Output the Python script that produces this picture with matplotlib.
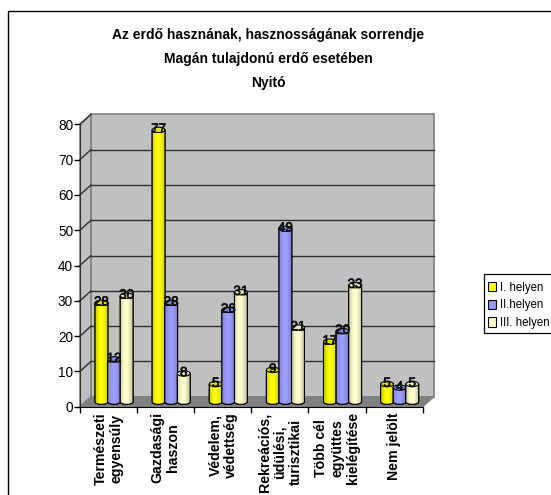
import numpy as np
import matplotlib
matplotlib.use("Agg")
import matplotlib.pyplot as plt
import matplotlib.patheffects as pe
from matplotlib.colors import LinearSegmentedColormap
from matplotlib.patches import Ellipse, Patch, PathPatch, Polygon, Rectangle
from matplotlib.path import Path

plt.rcParams['font.family'] = ['Liberation Sans', 'DejaVu Sans']

# Data
categories = ["Természeti\negyensúly", "Gazdasági\nhaszon", "Védelem,\nvédettség",
              "Rekreációs,\nüdülési,\nturisztikai", "Több cél\negyüttes\nkielégítése",
              "Nem jelölt"]
first = [28, 77, 5, 9, 17, 5]
second = [12, 28, 26, 49, 20, 4]
third = [30, 8, 31, 21, 33, 5]
series_names = ["I. helyen", "II.helyen", "III. helyen"]
yticks = [0, 10, 20, 30, 40, 50, 60, 70, 80]

W, H = 551, 495
fig = plt.figure(figsize=(W / 100, H / 100), dpi=100)
ax = fig.add_axes([80 / W, (H - 406.7) / H, 342.7 / W, 282.4 / H])
ax.set_facecolor("none")

# Depth of the fake 3D box in data units
dx = 11 / 57.1
dy = 10 / 3.53
bar_w = 12.8 / 57.1
ell_h = 1.5

# Outer frame, runs off the picture on the right and bottom
fig.add_artist(Rectangle((8 / W, -0.1), 1.2, (H - 11) / H + 0.1, transform=fig.transFigure,
                         fill=False, ec="black", lw=1))

# Walls and floor
ax.add_patch(Polygon([(dx, dy), (6 + dx, dy), (6 + dx, 80 + dy), (dx, 80 + dy)],
                     fc="#c0c0c0", ec="#808080", lw=1.2, clip_on=False, zorder=1))
ax.add_patch(Polygon([(0, 0), (dx, dy), (dx, 80 + dy), (0, 80)],
                     fc="#c0c0c0", ec="#808080", lw=1.2, clip_on=False, zorder=1))
ax.add_patch(Polygon([(0, 0), (6, 0), (6 + dx, dy), (dx, dy)],
                     fc="#808080", ec="#808080", lw=1, clip_on=False, zorder=1))

for v in yticks[1:]:
    ax.plot([0, dx], [v, v + dy], color="#303030", lw=1, clip_on=False, zorder=2)
    if v < 80:
        ax.plot([dx, 6 + dx], [v + dy, v + dy], color="#303030", lw=1, clip_on=False, zorder=2)

colors = [("#c8c800", "#ffff00", "#d0d000"),
          ("#8484d8", "#9c9cff", "#7c7cc8"),
          ("#d0d0a8", "#ffffd0", "#c4c49c")]
tops = ["#e0e000", "#8484e0", "#e8e8b8"]


def cylinder(x, v, cmap, top):
    left, right = x - bar_w / 2, x + bar_w / 2
    base = dy / 2
    y_top = v + dy / 2
    # body outline with the rounded bottom
    k = ell_h / 2 * 1.33
    verts = [(left, y_top), (left, base), (left, base - k), (right, base - k), (right, base),
             (right, y_top), (left, y_top)]
    codes = [Path.MOVETO, Path.LINETO, Path.CURVE4, Path.CURVE4, Path.CURVE4, Path.LINETO,
             Path.CLOSEPOLY]
    body = PathPatch(Path(verts, codes), fc="none", ec="black", lw=0.8, clip_on=False, zorder=3)
    ax.add_patch(body)
    im = ax.imshow(np.linspace(0, 1, 32).reshape(1, -1), cmap=cmap, aspect="auto",
                   extent=(left, right, base - ell_h, y_top), zorder=3)
    im.set_clip_path(body)
    ax.add_patch(PathPatch(Path(verts, codes), fc="none", ec="black", lw=0.8, clip_on=False, zorder=3))
    ax.add_patch(Ellipse((x, y_top), bar_w, ell_h, fc=top, ec="black", lw=0.8, clip_on=False, zorder=3))


stroke = [pe.withStroke(linewidth=0.5, foreground="#101010")]
for s, values in enumerate([first, second, third]):
    cmap = LinearSegmentedColormap.from_list("c%d" % s, [(0, colors[s][0]), (0.35, colors[s][1]),
                                                         (0.6, colors[s][1]), (1, colors[s][2])])
    for i, v in enumerate(values):
        x = i + 0.5 + dx / 2 + (s - 1) * 12.6 / 57.1
        cylinder(x, v, cmap, tops[s])
        ax.text(x, v + dy / 2 + 0.5, str(v), ha="center", va="center_baseline", fontsize=9.6,
                color="#101010", path_effects=stroke, zorder=4)

ax.set_xlim(0, 6)
ax.set_ylim(0, 80)
for name in ["top", "right"]:
    ax.spines[name].set_visible(False)
ax.spines["left"].set_color("#303030")
ax.spines["bottom"].set_color("black")
ax.spines["left"].set_zorder(2)

ax.set_yticks(yticks)
ax.tick_params(axis="y", length=4, width=1, pad=1, labelsize=9.8)
ax.set_xticks(range(7))
ax.set_xticklabels([])
ax.tick_params(axis="x", which="major", length=4.5, width=1)
ax.set_xticks(np.arange(6) + 0.5, minor=True)
ax.set_xticklabels(categories, minor=True, rotation=90, fontsize=10.2, fontweight="bold",
                   ha="center", va="top", multialignment="center", linespacing=1.15)
ax.tick_params(axis="x", which="minor", length=0, pad=4)

fig.text(268 / W, 1 - 59 / H, "Az erdő hasznának, hasznosságának sorrendje\n"
         "Magán tulajdonú erdő esetében\nNyitó", ha="center", va="center", fontsize=10,
         fontweight="bold", linespacing=1.9)

# Legend box is wider than the picture, so the frame is drawn on its own
fig.add_artist(Rectangle((484 / W, 1 - 333 / H), 0.2, 59 / H, transform=fig.transFigure,
                         fc="white", ec="black", lw=0.9))
handles = [Patch(fc=c, ec="black", lw=0.8) for c in ["#ffff00", "#9999ff", "#ffffcc"]]
leg = fig.legend(handles, series_names, loc="upper left", bbox_to_anchor=(488 / W, 1 - 281.5 / H),
                 fontsize=8.3, frameon=False,
                 handlelength=0.7, handleheight=0.9, handletextpad=0.3, labelspacing=0.5,
                 borderpad=0, borderaxespad=0)

fig.savefig("out.png", dpi=100)
